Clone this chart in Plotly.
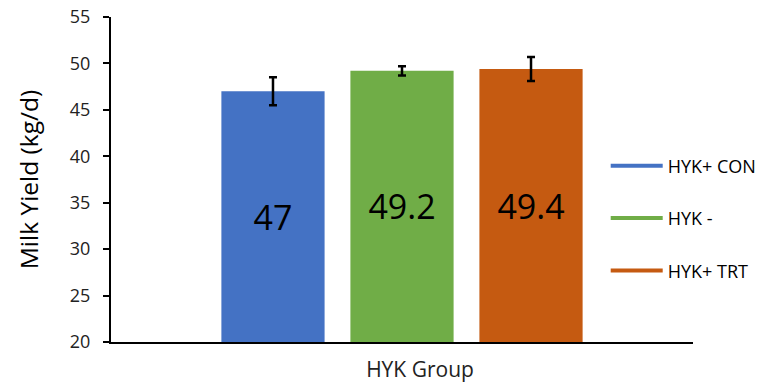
import plotly.graph_objects as go

categories = ["HYK Group"]
series_names = ["HYK+ CON", "HYK -", "HYK+ TRT"]
series_values = [47.0, 49.2, 49.4]
series_errors = [1.5, 0.5, 1.3]
series_labels = ["47", "49.2", "49.4"]
colors = ["#4472C4", "#70AD47", "#C55A11"]
y_ticks = [20, 25, 30, 35, 40, 45, 50, 55]
y_min, y_max = 20, 55

FONT = "Open Sans"

fig = go.Figure()
for name, val, err, lab, col in zip(series_names, series_values, series_errors, series_labels, colors):
    fig.add_trace(go.Bar(
        x=categories, y=[val - y_min], base=y_min, name=name,
        marker=dict(color=col, line=dict(width=0)),
        error_y=dict(type="data", array=[err], visible=True, color="black", thickness=2.5, width=4),
        text=[lab], textposition="inside", insidetextanchor="middle",
        textfont=dict(family=FONT, size=34, color="black"),
        hovertext=[f"{name}: {val}"], hoverinfo="text",
        showlegend=False,
    ))
for i, (name, col) in enumerate(zip(series_names, colors)):
    fig.add_trace(go.Scatter(
        x=[None], y=[None], mode="lines", name=name,
        line=dict(color=col, width=4), legendgroup=f"g{i}", showlegend=True,
    ))

fig.update_layout(
    width=778, height=383,
    margin=dict(l=111, r=85, t=17, b=41, autoexpand=False),
    paper_bgcolor="white", plot_bgcolor="white",
    barmode="group", bargap=0.335, bargroupgap=0.2,
    font=dict(family=FONT, size=18, color="#222"),
    legend=dict(x=0.85, y=0.38, xanchor="left", yanchor="middle",
                font=dict(family=FONT, size=18, color="black"),
                tracegroupgap=26, bgcolor="rgba(0,0,0,0)", itemwidth=52),
    showlegend=True,
)
fig.update_xaxes(
    showline=True, linecolor="black", linewidth=2, ticks="",
    tickfont=dict(family=FONT, size=21, color="#222"), ticklabelshift=18,
    ticklabelstandoff=8,
    showgrid=False, zeroline=False, automargin=False,
)
fig.update_yaxes(
    range=[y_min, y_max], tickvals=y_ticks, ticktext=[str(t) for t in y_ticks],
    showline=True, linecolor="black", linewidth=2, ticks="outside", ticklen=6,
    tickcolor="black", tickwidth=1.5, ticklabelstandoff=9,
    tickfont=dict(family=FONT, size=18, color="#222"),
    title=dict(text="Milk Yield (kg/d)", font=dict(family=FONT, size=24.5, color="black"), standoff=24),
    showgrid=False, zeroline=False, automargin=False,
)

fig.write_html("out.html", config={"displayModeBar": False},
               post_script="document.body.style.margin='0';")
